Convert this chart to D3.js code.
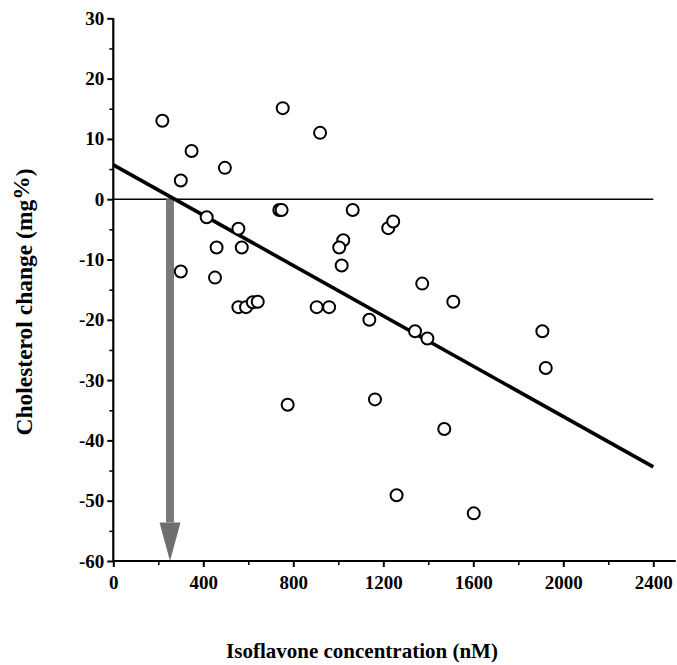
<!DOCTYPE html>
<html>
<head>
<meta charset="utf-8">
<script src="https://cdn.jsdelivr.net/npm/d3@7"></script>
<style>
  body{margin:0;background:#fff;}
  svg{display:block;}
  text{font-family:"Liberation Serif","DejaVu Serif",serif;font-weight:bold;fill:#000;}
</style>
</head>
<body>
<script>
// ---- data ----
const isoflavone = [218,348,300,496,753,919,415,738,748,556,
                    459,571,300,452,556,590,620,642,904,959,
                    1222,1244,1064,1022,1004,1015,1373,1511,1138,1341,
                    1396,1907,1922,775,1163,1471,1259,1602];
const cholChange = [13,8,3.1,5.2,15.1,11,-3,-1.8,-1.8,-4.9,
                    -8,-8,-12,-13,-17.9,-17.9,-17.1,-17,-17.9,-17.9,
                    -4.8,-3.7,-1.8,-6.8,-8,-11,-14,-17,-20,-21.9,
                    -23.1,-21.9,-28,-34.1,-33.2,-38.1,-49.1,-52.1];
const fitLine = [[0,5.7],[2400,-44.4]];   // regression ends
const arrowAt = 252;                       // x where the grey arrow drops
const xTicks = [0,400,800,1200,1600,2000,2400];
const yTicks = [30,20,10,0,-10,-20,-30,-40,-50,-60];

const w = 677, h = 665;
const serif = '"Liberation Serif","DejaVu Serif",serif';

const svg = d3.select('body').append('svg')
  .attr('width', w).attr('height', h);

const x = d3.scaleLinear().domain([0,2400]).range([113.3,653.3]);
const y = d3.scaleLinear().domain([-60,30]).range([561,18.3]);

function styleTicks(g){
  g.attr('font-family',serif).attr('font-size',19).attr('font-weight','bold');
  g.selectAll('.tick text').attr('fill','#000');
  g.select('.domain').remove();
}

//----------- axes -----------
// minor ticks every 5 / every 200
const yMinor = svg.append('g').attr('transform','translate('+x(0)+',0)')
  .call(d3.axisLeft(y).tickValues(d3.range(-55,30,10)).tickSize(4).tickFormat(''));
yMinor.selectAll('.tick line').attr('stroke-width',1.5);
yMinor.select('.domain').remove();

const yMajor = svg.append('g').attr('transform','translate('+x(0)+',0)')
  .call(d3.axisLeft(y).tickValues(yTicks).tickSize(6).tickPadding(3).tickFormat(d=>String(d)));
yMajor.selectAll('.tick line').attr('stroke-width',2);
styleTicks(yMajor);

const xMinor = svg.append('g').attr('transform','translate(0,'+y(-60)+')')
  .call(d3.axisBottom(x).tickValues(d3.range(200,2400,400)).tickSize(4).tickFormat(''));
xMinor.selectAll('.tick line').attr('stroke-width',1.5);
xMinor.select('.domain').remove();

const xMajor = svg.append('g').attr('transform','translate(0,'+y(-60)+')')
  .call(d3.axisBottom(x).tickValues(xTicks).tickSize(6).tickPadding(9).tickFormat(d=>String(d)));
xMajor.selectAll('.tick line').attr('stroke-width',2);
styleTicks(xMajor);

// axis lines (x axis runs a bit past 2400)
svg.append('line')
  .attr('x1',x(0)).attr('x2',x(0)).attr('y1',y(30)).attr('y2',y(-60))
  .attr('stroke','#000').attr('stroke-width',2.2);
svg.append('line')
  .attr('x1',x(0)).attr('x2',x(2500)).attr('y1',y(-60)).attr('y2',y(-60))
  .attr('stroke','#000').attr('stroke-width',2.2);

// zero line
svg.append('line')
  .attr('x1',x(0)).attr('x2',x(2400)).attr('y1',y(0)).attr('y2',y(0))
  .attr('stroke','#000').attr('stroke-width',1.6);

//----------- arrow -----------
const ax = x(arrowAt);
svg.append('rect')
  .attr('x',ax-4).attr('y',y(0)).attr('width',8).attr('height',y(-53.6)-y(0))
  .attr('fill','#7a7a7a');
svg.append('path')
  .attr('d','M'+(ax-10.5)+','+y(-53.6)+'L'+(ax+10.5)+','+y(-53.6)+'L'+ax+','+y(-60)+'Z')
  .attr('fill','#6e6e6e');

//----------- regression line -----------
svg.append('path')
  .datum(fitLine)
  .attr('d', d3.line().x(d=>x(d[0])).y(d=>y(d[1])))
  .attr('stroke','#000').attr('stroke-width',3.6).attr('fill','none');

//----------- points -----------
svg.append('g').selectAll('circle')
  .data(isoflavone.map((v,i)=>[v,cholChange[i]]))
  .enter().append('circle')
  .attr('cx',d=>x(d[0])).attr('cy',d=>y(d[1])).attr('r',6)
  .attr('fill','#fff').attr('stroke','#000').attr('stroke-width',2);

//----------- labels -----------
svg.append('text')
  .attr('x',362).attr('y',658)
  .attr('text-anchor','middle')
  .style('font-size','21px')
  .text('Isoflavone concentration (nM)');

const yl = svg.append('text')
  .attr('transform','translate(32,302) rotate(-90)')
  .attr('text-anchor','middle')
  .style('font-size','23.5px');
yl.append('tspan').text('Cholesterol change (mg');
yl.append('tspan').attr('dy',-3).text('%');
yl.append('tspan').attr('dy',3).text(')');
</script>
</body>
</html>
